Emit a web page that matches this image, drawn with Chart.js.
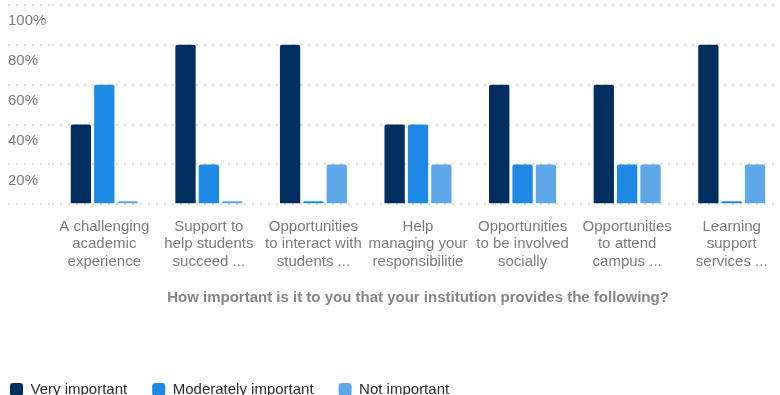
<!DOCTYPE html>
<html>
<head>
<meta charset="utf-8">
<script src="https://cdn.jsdelivr.net/npm/chart.js@4/dist/chart.umd.min.js"></script>
<style>
    html, body { margin: 0; padding: 0; background: #fff; overflow: hidden; }
    #wrap { position: relative; width: 784px; height: 407px; }
</style>
</head>
<body>
<div id="wrap"><canvas id="importanceChart"></canvas></div>
<script>
// Survey answers per item (share of respondents, %)
const categories = [
    ['A challenging', 'academic', 'experience'],
    ['Support to', 'help students', 'succeed ...'],
    ['Opportunities', 'to interact with', 'students ...'],
    ['Help', 'managing your', 'responsibilitie'],
    ['Opportunities', 'to be involved', 'socially'],
    ['Opportunities', 'to attend', 'campus ...'],
    ['Learning', 'support', 'services ...']
];
const veryImportant = [40, 80, 80, 40, 60, 60, 80];
const moderatelyImportant = [60, 20, 0, 40, 20, 20, 0];
const notImportant = [0, 0, 20, 20, 20, 20, 20];
const yTicks = [0, 20, 40, 60, 80, 100];

const axisTitle = 'How important is it to you that your institution provides the following?';

const gridColor = '#dcdcdc';
const textGray = '#7b7b7b';

// nudge the legend row so the first swatch sits near the left edge
const legendShift = {
    id: 'legendShift',
    afterLayout(chart) {
        if (chart.legend) chart.legend.left -= 23;
    }
};

const ctx = document.getElementById('importanceChart').getContext('2d');

const importanceChart = new Chart(ctx, {
    type: 'bar',
    data: {
        labels: categories,
        datasets: [
            { label: 'Very important', data: veryImportant, backgroundColor: '#002e5f' },
            { label: 'Moderately important', data: moderatelyImportant, backgroundColor: '#1e88e5' },
            { label: 'Not important', data: notImportant, backgroundColor: '#5ea8ea' }
        ]
    },
    plugins: [legendShift],
    options: {
        responsive: true,
        maintainAspectRatio: false,
        animation: false,
        layout: { padding: { left: 8, top: 5, right: 0, bottom: 0 } },
        datasets: {
            bar: {
                categoryPercentage: 0.67,
                barPercentage: 0.87,
                borderRadius: 2,
                minBarLength: 3
            }
        },
        plugins: {
            legend: {
                position: 'bottom',
                align: 'start',
                labels: {
                    boxWidth: 13,
                    boxHeight: 13,
                    padding: 25,
                    color: '#2b2b2b',
                    font: { family: 'Liberation Sans, Arial, sans-serif', size: 15 },
                    generateLabels(chart) {
                        return Chart.defaults.plugins.legend.labels.generateLabels(chart).map(item => {
                            item.borderRadius = 3;
                            item.lineWidth = 0;
                            return item;
                        });
                    }
                }
            },
            tooltip: { enabled: false }
        },
        scales: {
            x: {
                grid: { display: false, drawTicks: false },
                border: { display: false },
                ticks: {
                    padding: 14,
                    maxRotation: 0,
                    autoSkip: false,
                    color: textGray,
                    font: { family: 'Liberation Sans, Arial, sans-serif', size: 15, lineHeight: 1.15 }
                },
                title: {
                    display: true,
                    text: axisTitle,
                    color: '#858585',
                    padding: { top: 5, bottom: 50 },
                    font: { family: 'Liberation Sans, Arial, sans-serif', size: 15, weight: 'bold' }
                }
            },
            y: {
                min: 0,
                max: 100,
                afterFit(scale) {
                    scale.width = 44;
                    scale.paddingTop = 0;
                    scale.paddingBottom = 0;
                },
                afterBuildTicks(scale) {
                    scale.ticks = yTicks.map(v => ({ value: v }));
                },
                border: { display: false, dash: [2, 6] },
                grid: {
                    color: gridColor,
                    lineWidth: 2,
                    drawTicks: true,
                    tickLength: 44,
                    tickColor: gridColor,
                    tickWidth: 2,
                    tickBorderDash: [2, 6]
                },
                ticks: {
                    crossAlign: 'far',
                    labelOffset: 16,
                    padding: 0,
                    color: textGray,
                    font: { family: 'Liberation Sans, Arial, sans-serif', size: 15 },
                    callback: value => value === 0 ? '' : value + '%'
                }
            }
        }
    }
});
</script>
</body>
</html>
